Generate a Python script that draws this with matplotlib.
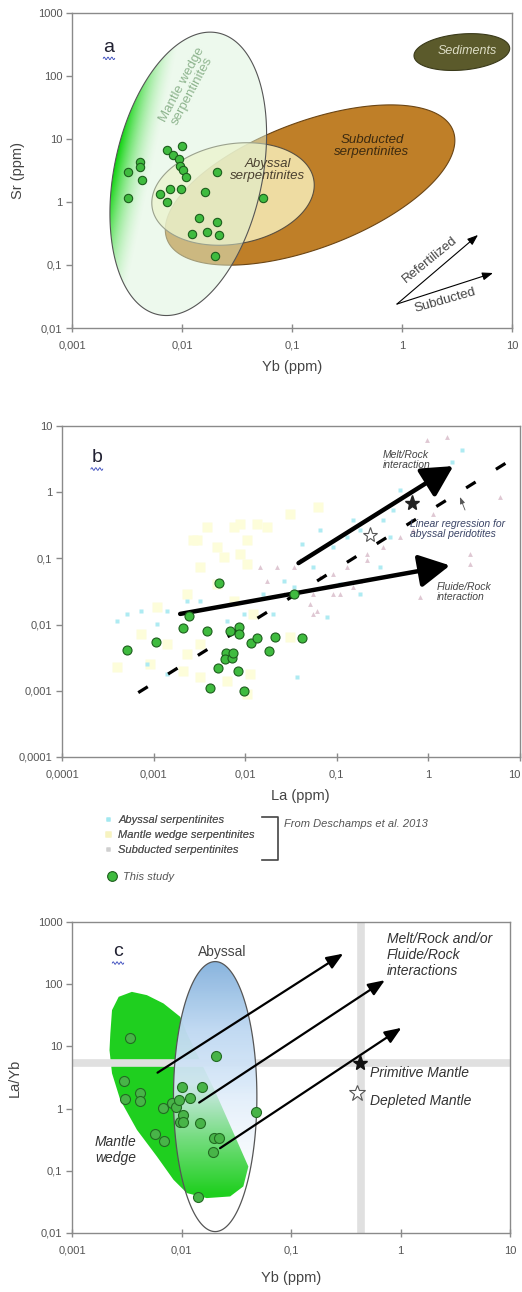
import numpy as np
import matplotlib
matplotlib.use("Agg")
import matplotlib.pyplot as plt
from matplotlib.patches import Polygon
from matplotlib.lines import Line2D
from matplotlib.ticker import NullLocator

plt.rcParams['font.family'] = ['Liberation Sans', 'DejaVu Sans']

# ---------------------------------------------------------------- data
# panel a : Sr (ppm) vs Yb (ppm), this study
a_yb = [0.00323, 0.0032, 0.00418, 0.00418, 0.0043, 0.0073, 0.0083, 0.0093, 0.0100,
        0.0095, 0.0102, 0.0109, 0.00635, 0.0077, 0.0073, 0.0098, 0.0163, 0.0208,
        0.0144, 0.0208, 0.0123, 0.0169, 0.0215, 0.0201, 0.054]
a_sr = [3.0, 1.17, 4.35, 3.6, 2.2, 6.7, 5.55, 4.8, 7.7, 3.75, 3.2, 2.45, 1.36, 1.63,
        1.0, 1.63, 1.44, 2.94, 0.56, 0.49, 0.305, 0.33, 0.30, 0.14, 1.17]

# panel b : La (ppm), this study
b_la = [0.000512, 0.00106, 0.00241, 0.00209, 0.00382, 0.00521, 0.00408, 0.00499,
        0.0061, 0.00595, 0.00721, 0.00733, 0.00686, 0.00846, 0.00846, 0.00825,
        0.0096, 0.0115, 0.0134, 0.0184, 0.0212, 0.0342, 0.0415]
b_y = [0.00413, 0.0054, 0.0137, 0.0089, 0.0081, 0.0428, 0.00112, 0.0022, 0.00377,
       0.00302, 0.00316, 0.00377, 0.0081, 0.0091, 0.0072, 0.0020, 0.0010, 0.0052,
       0.0063, 0.0040, 0.0064, 0.0292, 0.0063]

# panel b : literature data (Deschamps et al. 2013)
b_abyssal_la = [0.0004, 0.00051, 0.00072, 0.0014, 0.00109, 0.0023, 0.0032, 0.0063,
                0.0096, 0.0158, 0.0262, 0.0337, 0.0415, 0.0658, 0.092, 0.129, 0.152,
                0.18, 0.323, 0.415, 0.491, 1.13, 2.31, 1.8, 0.297, 0.18, 0.0778,
                0.0367, 0.00085, 0.0014, 0.382, 0.109, 0.0556, 0.02]
b_abyssal_y = [0.0115, 0.0145, 0.0163, 0.0163, 0.0102, 0.023, 0.023, 0.0115, 0.0145,
               0.029, 0.046, 0.037, 0.167, 0.265, 0.148, 0.21, 0.377, 0.265, 0.377,
               0.53, 1.07, 1.52, 4.3, 2.9, 0.074, 0.029, 0.0129, 0.0016, 0.0025,
               0.0018, 0.21, 0.041, 0.074, 0.0145]
b_wedge_la = [0.0038, 0.0075, 0.0134, 0.031, 0.063, 0.003, 0.0049, 0.0088, 0.0032,
              0.0049, 0.0023, 0.00109, 0.0075, 0.0123, 0.00072, 0.0004, 0.00092,
              0.0023, 0.0032, 0.0063, 0.0114, 0.0104, 0.0014, 0.0021, 0.0172, 0.0088,
              0.0104, 0.0027, 0.0058, 0.0104, 0.0032, 0.031]
b_wedge_y = [0.30, 0.30, 0.335, 0.475, 0.6, 0.187, 0.148, 0.118, 0.074, 0.041, 0.029,
             0.0183, 0.023, 0.0145, 0.0072, 0.0023, 0.0025, 0.0036, 0.0016, 0.0014,
             0.0018, 0.00089, 0.0051, 0.002, 0.30, 0.335, 0.187, 0.187, 0.105, 0.083,
             0.0051, 0.0064]
b_subd_la = [0.0146, 0.0221, 0.0398, 0.0658, 0.092, 0.129, 0.18, 0.212, 0.0556, 0.0605,
             0.0556, 0.0512, 0.109, 0.152, 0.685, 0.96, 1.58, 2.85, 2.85, 6.05, 1.13,
             0.491, 0.212, 0.323, 0.81, 0.0262, 0.0172, 0.0337, 0.092]
b_subd_y = [0.074, 0.074, 0.093, 0.052, 0.059, 0.074, 0.046, 0.093, 0.029, 0.0163,
            0.0145, 0.0206, 0.029, 0.037, 0.265, 6.1, 6.9, 0.083, 0.118, 0.85, 0.475,
            0.21, 0.118, 0.148, 0.026, 0.029, 0.046, 0.074, 0.029]

# regression for abyssal peridotites: log10(y) = slope*log10(La) + intercept
reg_slope = 0.864
reg_intercept = -0.291
reg_la_range = [0.00068, 7.5]

# reference mantle compositions (panel b: La, y ; panel c: Yb, La/Yb)
b_pm = (0.66, 0.69)
b_dm = (0.231, 0.229)
c_pm = (0.426, 5.47)
c_dm = (0.397, 1.81)

# panel c : La/Yb vs Yb (ppm), this study
c_yb = [0.00336, 0.00296, 0.00302, 0.00414, 0.00414, 0.00575, 0.00695, 0.00676,
        0.00817, 0.00894, 0.0094, 0.01007, 0.00973, 0.0104, 0.0104, 0.0120, 0.0155,
        0.0148, 0.0206, 0.0196, 0.0220, 0.0192, 0.0142, 0.0476]
c_layb = [13.9, 2.78, 1.43, 1.76, 1.33, 0.39, 0.30, 1.01, 1.22, 1.05, 1.38, 2.2, 0.62,
          0.79, 0.60, 1.5, 2.2, 0.58, 7.0, 0.343, 0.343, 0.197, 0.0373, 0.895]

# panel c : mantle wedge field outline (Yb, La/Yb)
c_wedge_yb = [0.00224, 0.00232, 0.00267, 0.00352, 0.00483, 0.00685, 0.00973, 0.0112,
              0.02, 0.0408, 0.0367, 0.0278, 0.017, 0.0112, 0.00845, 0.00596, 0.00392,
              0.00276, 0.00232, 0.0022]
c_wedge_layb = [16.2, 38.3, 62.7, 75.3, 66.7, 49, 29.9, 16.2, 2.0, 0.117, 0.0561, 0.0387,
                0.0364, 0.0438, 0.0718, 0.17, 0.455, 1.38, 3.69, 8.7]

# primitive mantle reference lines in panel c
c_pm_layb_line = 5.35
c_pm_yb_line = 0.436

# ticks
ticks_a_x = [0.001, 0.01, 0.1, 1, 10]
labels_a_x = ['0,001', '0,01', '0,1', '1', '10']
ticks_a_y = [0.01, 0.1, 1, 10, 100, 1000]
labels_a_y = ['0,01', '0,1', '1', '10', '100', '1000']
ticks_b = [0.0001, 0.001, 0.01, 0.1, 1, 10]
labels_b = ['0,0001', '0,001', '0,01', '0,1', '1', '10']

# ---------------------------------------------------------------- figure
W, H = 522, 1292
fig = plt.figure(figsize=(W / 100, H / 100), dpi=100)
fig.patch.set_facecolor('white')

TICK_C = '#8a8a8a'
LAB_C = '#555555'


def add_axes(left, top, right, bottom):
    return fig.add_axes([left / W, 1 - bottom / H, (right - left) / W, (bottom - top) / H])


def style(ax, xl, yl, xt, xtl, yt, ytl):
    ax.set_xscale('log')
    ax.set_yscale('log')
    ax.set_xlim(xl)
    ax.set_ylim(yl)
    ax.set_xticks(xt)
    ax.set_xticklabels(xtl)
    ax.set_yticks(yt)
    ax.set_yticklabels(ytl)
    ax.xaxis.set_minor_locator(NullLocator())
    ax.yaxis.set_minor_locator(NullLocator())
    for s in ax.spines.values():
        s.set_color(TICK_C)
        s.set_linewidth(1.0)
    ax.tick_params(axis='x', direction='inout', length=6, width=1, color=TICK_C,
                   labelsize=8, labelcolor=LAB_C, pad=6)
    ax.tick_params(axis='y', direction='out', length=4, width=1, color=TICK_C,
                   labelsize=8, labelcolor=LAB_C, pad=3)
    ax.set_autoscale_on(False)


def ellipse_disp(ax, cx, cy, a, b, ang, n=400):
    c = ax.transData.transform((cx, cy))
    t = np.linspace(0, 2 * np.pi, n)
    th = np.radians(ang)
    x = c[0] + a * np.cos(t) * np.cos(th) - b * np.sin(t) * np.sin(th)
    y = c[1] + a * np.cos(t) * np.sin(th) + b * np.sin(t) * np.cos(th)
    return np.column_stack([x, y]), c


def flat_ellipse(ax, cx, cy, a, b, ang, face, edge, lw, z):
    disp, _ = ellipse_disp(ax, cx, cy, a, b, ang)
    data = ax.transData.inverted().transform(disp)
    ax.add_patch(Polygon(data, closed=True, facecolor=face, edgecolor=edge, lw=lw, zorder=z))


def grad_ellipse(ax, cx, cy, a, b, ang, func, edge, lw, z):
    disp, c = ellipse_disp(ax, cx, cy, a, b, ang)
    data = ax.transData.inverted().transform(disp)
    patch = Polygon(data, closed=True, facecolor='none', edgecolor=edge, lw=lw, zorder=z + 0.1)
    ax.add_patch(patch)
    x0, y0 = disp.min(0)
    x1, y1 = disp.max(0)
    nx, ny = int(x1 - x0) + 2, int(y1 - y0) + 2
    gx, gy = np.meshgrid(np.linspace(x0, x1, nx), np.linspace(y0, y1, ny))
    dx, dy = gx - c[0], gy - c[1]
    th = np.radians(ang)
    u = (dx * np.cos(th) + dy * np.sin(th)) / a
    v = (-dx * np.sin(th) + dy * np.cos(th)) / b
    fy = (gy - y0) / (y1 - y0)
    rgba = func(u, v, fy)
    inv = ax.transAxes.inverted()
    ax0, ay0 = inv.transform((x0, y0))
    ax1_, ay1 = inv.transform((x1, y1))
    im = ax.imshow(rgba, extent=[ax0, ax1_, ay0, ay1], transform=ax.transAxes,
                   origin='lower', aspect='auto', interpolation='bilinear', zorder=z)
    im.set_clip_path(patch)


def letter(ax, x, y, s):
    ax.text(x, y, s, transform=ax.transAxes, fontsize=14, color='#222233',
            ha='center', va='center', zorder=10)
    xs = np.linspace(x - 0.013, x + 0.013, 30)
    ax.plot(xs, y - 0.036 + 0.004 * np.sin(np.linspace(0, 6 * np.pi, 30)),
            transform=ax.transAxes, color='#3344bb', lw=0.6, zorder=10)


def arrow(ax, start, end, lw, ms, hl, hw, color='black', z=4):
    ax.annotate('', xy=end, xytext=start,
                arrowprops=dict(arrowstyle=f'-|>,head_length={hl},head_width={hw}',
                                lw=lw, color=color, mutation_scale=ms,
                                shrinkA=0, shrinkB=0), zorder=z)


# ============================================================ panel a
ax1 = add_axes(72, 13, 512, 328)
style(ax1, (0.001, 10), (0.01, 1000), ticks_a_x, labels_a_x, ticks_a_y, labels_a_y)

flat_ellipse(ax1, 3.5, 240, 48, 18, 5, '#5b5a2b', '#3a3a1a', 0.8, 2)
flat_ellipse(ax1, 0.146, 1.86, 153, 63, 20.8, '#bf7f28', '#6b4514', 0.8, 2)
flat_ellipse(ax1, 0.0291, 1.34, 82, 50, 10, (0.985, 0.955, 0.76, 0.80), '#5a5040', 0.8, 3)


def wedge_a(u, v, fy):
    g = np.clip((v - 0.5) / 0.5, 0, 1) ** 1.3
    pale = np.array([0.86, 0.955, 0.86])
    bright = np.array([0.05, 0.83, 0.05])
    rgb = pale[None, None, :] * (1 - g)[..., None] + bright[None, None, :] * g[..., None]
    alpha = 0.5 + 0.5 * g
    return np.dstack([rgb, alpha])


grad_ellipse(ax1, 0.0114, 2.8, 144, 74, 78, wedge_a, '#555555', 0.8, 4)

ax1.plot(a_yb, a_sr, 'o', ms=6, mfc='#3fbb3f', mec='#1d5e1d', mew=0.8, zorder=6, ls='none')

ax1.text(0.0111, 64.5, 'Mantle wedge\nserpentinites', rotation=62, ha='center', va='center',
         fontsize=9.5, color='#8fb58f', zorder=7, linespacing=1.0)
ax1.text(0.533, 7.74, 'Subducted\nserpentinites', ha='center', va='center', fontsize=9.5,
         style='italic', color='#3c2a10', zorder=7, linespacing=1.0)
ax1.text(0.0605, 3.22, 'Abyssal\nserpentinites', ha='center', va='center', fontsize=9.5,
         style='italic', color='#4a4030', zorder=7, linespacing=1.0)
ax1.text(3.9, 245, 'Sediments', ha='center', va='center', fontsize=9, style='italic',
         color='#dcdcc4', zorder=7)

arrow(ax1, (0.90, 0.024), (4.91, 0.30), 0.8, 8, 0.8, 0.3, z=7)
arrow(ax1, (0.90, 0.024), (6.72, 0.0746), 0.8, 8, 0.8, 0.3, z=7)
ax1.text(1.8, 0.12, 'Refertilized', rotation=39, ha='center', va='center', fontsize=9.5,
         color='#444444', zorder=7)
ax1.text(2.46, 0.027, 'Subducted', rotation=16, ha='center', va='center', fontsize=9.5,
         color='#444444', zorder=7)

letter(ax1, 0.084, 0.892, 'a')
ax1.set_xlabel('Yb (ppm)', fontsize=10.5, color='#444444')
ax1.set_ylabel('Sr (ppm)', fontsize=10.5, color='#444444')
ax1.xaxis.set_label_coords(0.5, -0.10)
ax1.yaxis.set_label_coords(-0.107, 0.5)

# ============================================================ panel b
ax2 = add_axes(62, 426, 520, 757)
style(ax2, (0.0001, 10), (0.0001, 10), ticks_b, labels_b, ticks_b, labels_b)
ax2.get_xticklabels()[-1].set_ha('right')

ax2.plot(b_wedge_la, b_wedge_y, 's', ms=7, mfc='#fdfdda', mec='none', ls='none', zorder=1)
ax2.plot(b_abyssal_la, b_abyssal_y, 's', ms=3.0, mfc='#aeebf2', mec='none', ls='none', zorder=1.2)
ax2.plot(b_subd_la, b_subd_y, '^', ms=3.5, mfc='#dfc8d3', mec='none', ls='none', zorder=1.1)

reg_x = np.logspace(np.log10(reg_la_range[0]), np.log10(reg_la_range[1]), 50)
reg_y = 10 ** (reg_slope * np.log10(reg_x) + reg_intercept)
ax2.plot(reg_x, reg_y, color='black', lw=2.3, dashes=(3.5, 7.5), zorder=3)

arrow(ax2, (0.0382, 0.0849), (1.87, 2.48), 3.2, 25, 0.75, 0.4, z=4)
arrow(ax2, (0.00195, 0.0145), (1.72, 0.0783), 3.2, 25, 0.75, 0.4, z=4)

ax2.plot(b_la, b_y, 'o', ms=6.5, mfc='#3fbb3f', mec='#1d5e1d', mew=0.8, zorder=5, ls='none')
ax2.plot(*b_pm, marker='*', ms=11, color='#222222', zorder=6, ls='none')
ax2.plot(*b_dm, marker='*', ms=11, mfc='white', mec='#555555', mew=0.8, zorder=6, ls='none')

ax2.text(0.319, 3.07, 'Melt/Rock\ninteraction', ha='left', va='center', fontsize=7.5,
         style='italic', color='#444444', zorder=7, linespacing=1.1)
ax2.text(0.63, 0.278, 'Linear regression for\nabyssal peridotites', ha='left', va='center',
         fontsize=7.5, style='italic', color='#3a4466', zorder=7, linespacing=1.1)
ax2.text(1.24, 0.031, 'Fluide/Rock\ninteraction', ha='left', va='center', fontsize=7.5,
         style='italic', color='#444444', zorder=7, linespacing=1.1)
ax2.annotate('', xy=(2.21, 0.845), xytext=(2.51, 0.538),
             arrowprops=dict(arrowstyle='-|>,head_length=0.4,head_width=0.15', lw=0.6,
                             color='#555555', shrinkA=0, shrinkB=0), zorder=7)

letter(ax2, 0.076, 0.906, 'b')
ax2.set_xlabel('La (ppm)', fontsize=10.5, color='#444444')
ax2.xaxis.set_label_coords(0.52, -0.098)

# legend
h_ab = Line2D([], [], marker='s', ls='none', ms=3.5, mfc='#a2e8f0', mec='none')
h_mw = Line2D([], [], marker='s', ls='none', ms=5, mfc='#f7f3c0', mec='none')
h_sd = Line2D([], [], marker='s', ls='none', ms=3.5, mfc='#cfcfcf', mec='none')
h_ts = Line2D([], [], marker='o', ls='none', ms=7, mfc='#3fbb3f', mec='#1d5e1d', mew=0.8)
leg1 = fig.legend([h_ab, h_mw, h_sd],
                  ['Abyssal serpentinites', 'Mantle wedge serpentinites', 'Subducted serpentinites'],
                  loc='upper left', bbox_to_anchor=(104 / W, 1 - 815 / H), frameon=False,
                  prop=dict(size=8, style='italic'), labelcolor='#555555', handlelength=0.8,
                  handletextpad=0.5, labelspacing=0.45, borderpad=0, borderaxespad=0)
leg2 = fig.legend([h_ts], ['This study'], loc='upper left', bbox_to_anchor=(106 / W, 1 - 872 / H),
                  frameon=False, prop=dict(size=8, style='italic'), labelcolor='#555555',
                  handlelength=1.0, handletextpad=0.5, borderpad=0, borderaxespad=0)
fig.add_artist(leg1)
fig.add_artist(Line2D([262 / W, 278 / W, 278 / W, 262 / W],
                      [1 - 817 / H, 1 - 817 / H, 1 - 860 / H, 1 - 860 / H],
                      transform=fig.transFigure, color='#444444', lw=1.2))
fig.text(284 / W, 1 - 824 / H, 'From Deschamps et al. 2013', fontsize=8, style='italic',
         color='#555555', ha='left', va='center')

# ============================================================ panel c
ax3 = add_axes(72, 922, 510, 1233)
style(ax3, (0.001, 10), (0.01, 1000), ticks_a_x, labels_a_x, ticks_a_y, labels_a_y)

ax3.fill(c_wedge_yb, c_wedge_layb, facecolor='#1fcf1f', edgecolor='none', zorder=1)
ax3.axhline(c_pm_layb_line, color='#e0e0e0', lw=5.5, zorder=2)
ax3.axvline(c_pm_yb_line, color='#e0e0e0', lw=5.5, zorder=2)


def abyssal_c(u, v, fy):
    alpha = np.interp(fy, [0, 0.14, 0.35, 0.55, 1], [0, 0, 0.45, 0.95, 1])
    r = np.interp(fy, [0, 0.5, 0.75, 1], [0.92, 0.87, 0.75, 0.54])
    g = np.interp(fy, [0, 0.5, 0.75, 1], [0.95, 0.925, 0.85, 0.71])
    b = np.interp(fy, [0, 0.5, 0.75, 1], [0.98, 0.98, 0.95, 0.87])
    return np.dstack([r, g, b, alpha])


grad_ellipse(ax3, 0.0203, 1.56, 135, 41.7, 90, abyssal_c, '#555555', 0.9, 3)

arrow(ax3, (0.00604, 3.78), (0.300, 310), 1.6, 10, 1.0, 0.4, z=4)
arrow(ax3, (0.0145, 1.25), (0.72, 116), 1.6, 10, 1.0, 0.4, z=4)
arrow(ax3, (0.0225, 0.231), (1.02, 19.9), 1.6, 10, 1.0, 0.4, z=4)

ax3.plot(c_yb, c_layb, 'o', ms=7.2, mfc='#48b448', mec='#236b23', mew=0.8, zorder=5, ls='none')
ax3.plot(*c_pm, marker='*', ms=11, color='#111111', zorder=6, ls='none')
ax3.plot(*c_dm, marker='*', ms=12, mfc='white', mec='#555555', mew=0.8, zorder=6, ls='none')

ax3.text(0.0234, 330, 'Abyssal', ha='center', va='center', fontsize=10, color='#444444', zorder=7)
ax3.text(0.75, 294, 'Melt/Rock and/or\nFluide/Rock\ninteractions', ha='left', va='center',
         fontsize=10, style='italic', color='#333333', zorder=7, linespacing=1.15)
ax3.text(0.526, 3.73, 'Primitive Mantle', ha='left', va='center', fontsize=10, style='italic',
         color='#333333', zorder=7)
ax3.text(0.526, 1.32, 'Depleted Mantle', ha='left', va='center', fontsize=10, style='italic',
         color='#333333', zorder=7)
ax3.text(0.00162, 0.216, 'Mantle\nwedge', ha='left', va='center', fontsize=10, style='italic',
         color='#333333', zorder=7, linespacing=1.2)

letter(ax3, 0.105, 0.904, 'c')
ax3.set_xlabel('Yb (ppm)', fontsize=10.5, color='#444444')
ax3.set_ylabel('La/Yb', fontsize=10.5, color='#444444')
ax3.xaxis.set_label_coords(0.5, -0.122)
ax3.yaxis.set_label_coords(-0.114, 0.5)

fig.savefig('out.png', dpi=100, facecolor='white')
